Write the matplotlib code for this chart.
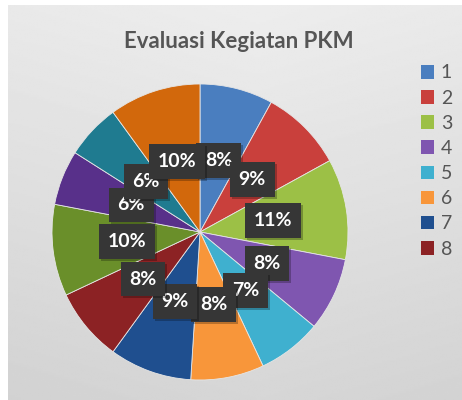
import numpy as np
import matplotlib
matplotlib.use("Agg")
import matplotlib.pyplot as plt
import matplotlib.transforms as mtransforms
from matplotlib.patches import Patch

# data
categories = ["1", "2", "3", "4", "5", "6", "7", "8", "9", "10", "11", "12"]
values = [8, 9, 11, 8, 7, 8, 9, 8, 10, 6, 6, 10]
colors = ["#4a7ebf", "#c9403c", "#9cc046", "#7f56b0", "#3fb0cf", "#f8963a",
          "#1f4f8f", "#8c2224", "#6a8f2a", "#58308a", "#1f7b90", "#d2680c"]
legend_shown = 8  # the legend in the source only lists the first 8

plt.rcParams['font.family'] = ['Lato', 'DejaVu Sans']

fig = plt.figure(figsize=(4.62, 4.0), dpi=100, facecolor="white")

# gray photo-like background
bg = fig.add_axes([8 / 462, 0, 454 / 462, 395 / 400])
yy, xx = np.mgrid[0:1:200j, 0:1:230j]
shade = 0.93 - 0.09 * yy - 0.03 * np.abs(xx - 0.55)
bg.imshow(shade, cmap="gray", vmin=0, vmax=1, aspect="auto", extent=[0, 1, 0, 1])
bg.axis("off")

ax = fig.add_axes([52 / 462, 20 / 400, 296 / 462, 296 / 400])
wedges, texts, autotexts = ax.pie(
    values, colors=colors, startangle=90, counterclock=False,
    autopct="%.0f%%", pctdistance=0.5,
    wedgeprops=dict(edgecolor="#e6e6e6", linewidth=0.6),
    textprops=dict(color="white", fontsize=14, fontweight="bold"),
)
for i, t in enumerate(autotexts):
    t.set_bbox(dict(boxstyle="square,pad=0.45", facecolor="#363636", edgecolor="none"))
    t.set_zorder(10 + 2 * i + 1)
    # soft drop shadow behind each label box
    x, y = t.get_position()
    shadow_tr = mtransforms.offset_copy(t.get_transform(), fig=fig, x=2, y=-2, units="dots")
    ax.text(x, y, t.get_text(), transform=shadow_tr, ha="center", va="center",
            fontsize=14, fontweight="bold", color="none", zorder=10 + 2 * i,
            bbox=dict(boxstyle="square,pad=0.45", facecolor="black", alpha=0.25, edgecolor="none"))
ax.set_xlim(-1, 1)
ax.set_ylim(-1, 1)
ax.set_aspect("equal")

fig.text(239 / 462, 1 - 41 / 400, "Evaluasi Kegiatan PKM", ha="center", va="center",
         fontsize=16, fontweight="bold", color="#555555")

handles = [Patch(facecolor=colors[i], edgecolor="none") for i in range(legend_shown)]
fig.legend(handles, categories[:legend_shown], loc="upper left",
           bbox_to_anchor=(403 / 462, 1 - 47 / 400), frameon=False,
           handlelength=0.7, handleheight=0.7, handletextpad=0.35,
           labelspacing=0.42, fontsize=14, labelcolor="#555555")

fig.savefig("out.png", dpi=100, facecolor="white")
